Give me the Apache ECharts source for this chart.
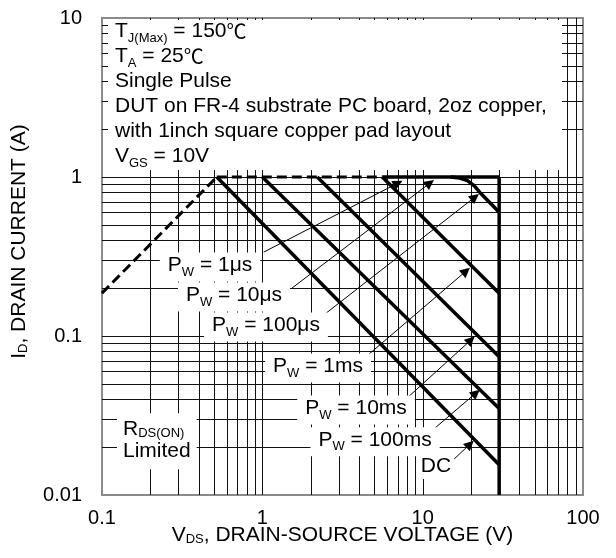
<!DOCTYPE html>
<html><head><meta charset="utf-8">
<script src="https://cdn.jsdelivr.net/npm/echarts@6/dist/echarts.min.js"></script>
<style>html,body{margin:0;padding:0;background:#fff}#c{width:616px;height:558px}</style>
</head><body><div id="c"></div>
<script>
// ---- data ----
const xTickValues = [0.1, 1, 10, 100];
const yTickValues = [0.01, 0.1, 1, 10];
const xGridValues = [0.2,0.3,0.4,0.5,0.6,0.7,0.8,0.9,1,2,3,4,5,6,7,8,9,10,20,30,40,50,60,70,80,90];
const yGridValues = [0.02,0.03,0.04,0.05,0.06,0.07,0.08,0.09,0.1,0.2,0.3,0.4,0.5,0.6,0.7,0.8,0.9,1,2,3,4,5,6,7,8,9];

const rdsLimit     = [[0.1, 0.186], [0.52, 1]];
const currentLimitDashed = [[0.52, 1], [5.6, 1]];
const currentLimitSolid  = [[5.6, 1], [30, 1]];
const vdsLimit     = [[30, 1], [30, 0.01]];
const pw100us = [[15, 1], [17, 0.985], [19, 0.95], [21, 0.88], [23, 0.79], [30, 0.6]];
const pw1ms   = [[5.6, 1], [30, 0.186]];
const pw10ms  = [[2.2, 1], [30, 0.074]];
const pw100ms = [[1.0, 1], [30, 0.035]];
const dcLine  = [[0.52, 1], [30, 0.0155]];

const pulseNames   = ['1μs', '10μs', '100μs', '1ms', '10ms', '100ms'];
const pulseLabelAt = [[0.472, 0.2715], [0.666, 0.176], [1.054, 0.114], [2.226, 0.0629], [3.84, 0.0342], [5.05, 0.0216]];
const dcLabelAt  = [12.1, 0.0150];
const rdsLabelAt = [0.124, 0.0218];
const arrowFrom = [[1.02, 0.337], [1.53, 0.200], [2.29, 0.130], [4.19, 0.0706], [7.99, 0.0407], [11.95, 0.0264], [14.8, 0.0159]];
const arrowTo   = [[7.02, 0.916], [11.1, 0.916], [21.2, 0.748], [18.65, 0.256], [20.0, 0.0944], [21.5, 0.0438], [19.75, 0.0209]];

const noteLines = [
  '{m|T}{s|J(Max)}{m| = 150}{c|℃}',
  '{m|T}{s|A}{m| = 25}{c|℃}',
  '{m|Single Pulse}',
  '{m|DUT on FR-4 substrate PC board, 2oz copper,}',
  '{m|with 1inch square copper pad layout}',
  '{m|V}{s|GS}{m| = 10V}'
];
const noteAt = [0.1205, 9.55];
const noteBoxFrom = [0.109, 10];
const noteBoxTo = [74, 1.107];

// ---- chart ----
const FONT = '"Liberation Sans", Arial, Helvetica, sans-serif';
function makeRich(lh) {
  return {
    m: {fontFamily: FONT, fontSize: 21, color: '#000', verticalAlign: 'top', lineHeight: lh},
    c: {fontFamily: '"Noto Sans CJK SC", "DejaVu Sans", sans-serif', fontSize: 20, color: '#000', verticalAlign: 'top', lineHeight: lh},
    s: {fontFamily: FONT, fontSize: 13, color: '#000', verticalAlign: 'top', lineHeight: 13, padding: [lh - 14, 0, 0, 0]}
  };
}
const rich = makeRich(25);
const richTight = makeRich(22);
const fmt = v => String(Number(Number(v).toPrecision(3)));

const gridData = xGridValues.map(v => [v, 1, 0]).concat(yGridValues.map(v => [1, v, 1]));

function thick(name, data, dashed) {
  return {
    name, type: 'line', data, showSymbol: false, symbol: 'none', z: 3, silent: true,
    lineStyle: {color: '#000', width: dashed ? 3 : 3.5, type: dashed ? [10, 5] : 'solid', cap: 'butt', join: 'miter'},
    animation: false
  };
}

const chart = echarts.init(document.getElementById('c'), null, {renderer: 'canvas'});
chart.setOption({
  animation: false,
  grid: {left: 102, right: 33, top: 18, bottom: 63, show: true, borderColor: '#8a8a8a', borderWidth: 2, backgroundColor: 'transparent'},
  xAxis: {
    type: 'log', logBase: 10, min: 0.1, max: 100,
    axisLine: {show: false}, axisTick: {show: false}, splitLine: {show: false},
    axisLabel: {fontFamily: FONT, fontSize: 20, color: '#000', margin: 13, formatter: fmt},
    name: '{m|V}{s|DS}{m|, DRAIN-SOURCE VOLTAGE (V)}', nameLocation: 'middle', nameGap: 30,
    nameMoveOverlap: false,
    nameTextStyle: {rich: richTight}
  },
  yAxis: {
    type: 'log', logBase: 10, min: 0.01, max: 10,
    axisLine: {show: false}, axisTick: {show: false}, splitLine: {show: false},
    axisLabel: {fontFamily: FONT, fontSize: 20, color: '#000', margin: 20, formatter: fmt},
    name: '{m|I}{s|D}{m|, DRAIN CURRENT (A)}', nameLocation: 'middle', nameGap: 71,
    nameTextStyle: {rich: richTight, padding: [0, 0, 0, 30]}
  },
  series: [
    {
      type: 'custom', z: 1, silent: true, data: gridData, encode: {x: 0, y: 1},
      renderItem: (params, api) => {
        const cs = params.coordSys;
        if (api.value(2) === 0) {
          const x = Math.round(api.coord([api.value(0), 1])[0]) + 0.5;
          return {type: 'line', shape: {x1: x, y1: cs.y, x2: x, y2: cs.y + cs.height}, style: {stroke: '#111', lineWidth: 1}};
        }
        const y = Math.round(api.coord([1, api.value(1)])[1]) + 0.5;
        return {type: 'line', shape: {x1: cs.x, y1: y, x2: cs.x + cs.width, y2: y}, style: {stroke: '#111', lineWidth: 1}};
      }
    },
    thick('RDS(ON) limit', rdsLimit, true),
    thick('ID limit dashed', currentLimitDashed, true),
    thick('ID limit', currentLimitSolid, false),
    thick('VDS limit', vdsLimit, false),
    thick('100us', pw100us, false),
    thick('1ms', pw1ms, false),
    thick('10ms', pw10ms, false),
    thick('100ms', pw100ms, false),
    thick('DC', dcLine, false),
    {
      type: 'line', data: [], z: 4, silent: true,
      markLine: {
        silent: true, animation: false, symbol: ['none', 'triangle'], symbolSize: 10,
        label: {show: false}, lineStyle: {color: '#000', width: 1, type: 'solid'},
        emphasis: {disabled: true},
        data: arrowFrom.map((f, i) => [{coord: f}, {coord: arrowTo[i]}])
      }
    }
  ]
});

const px = p => chart.convertToPixel({gridIndex: 0}, p);
const graphics = [];
const b0 = px(noteBoxFrom), b1 = px(noteBoxTo);
graphics.push({type: 'rect', z: 100, silent: true, shape: {x: b0[0], y: b0[1] + 2, width: b1[0] - b0[0], height: b1[1] - b0[1] - 2}, style: {fill: '#fff'}});
const na = px(noteAt);
graphics.push({type: 'text', z: 101, silent: true, x: na[0], y: na[1], style: {text: noteLines.join('\n'), rich, align: 'left', verticalAlign: 'top'}});
pulseNames.forEach((n, i) => {
  const p = px(pulseLabelAt[i]);
  graphics.push({type: 'text', z: 101, silent: true, x: p[0], y: p[1], style: {
    text: '{m|P}{s|W}{m| = ' + n + '}', rich, align: 'center', verticalAlign: 'middle', backgroundColor: '#fff', padding: [2, 8, 2, 8]}});
});
const dp = px(dcLabelAt);
graphics.push({type: 'text', z: 101, silent: true, x: dp[0], y: dp[1], style: {text: '{m|DC}', rich: richTight, align: 'center', verticalAlign: 'middle', backgroundColor: '#fff', padding: [1, 3, 1, 3]}});
const rp = px(rdsLabelAt);
graphics.push({type: 'text', z: 101, silent: true, x: rp[0], y: rp[1], style: {text: '{m|R}{s|DS(ON)}\n{m|Limited}', rich: richTight, align: 'left', verticalAlign: 'middle', backgroundColor: '#fff', padding: [6, 6, 6, 6]}});
chart.setOption({graphic: graphics});
</script>
</body></html>
